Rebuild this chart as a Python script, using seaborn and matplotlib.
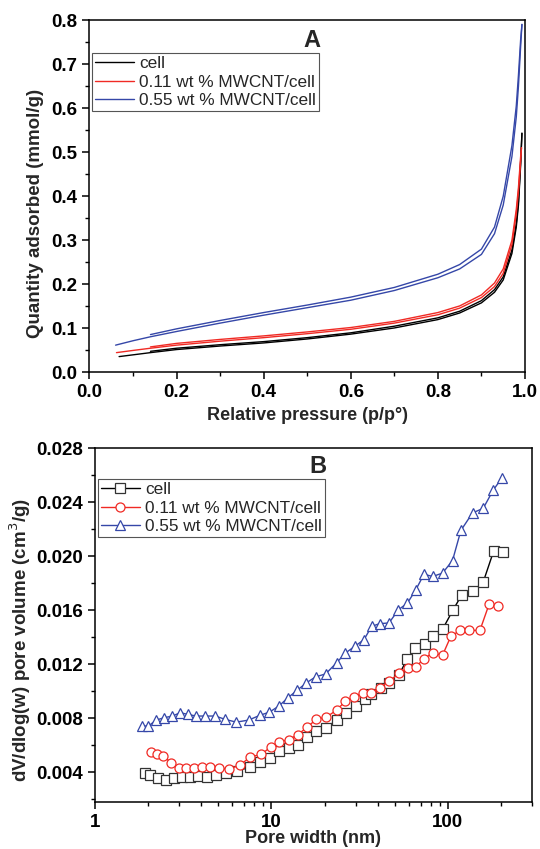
import seaborn as sns
import pandas as pd
import matplotlib
matplotlib.use("Agg")
import matplotlib.pyplot as plt
from matplotlib.ticker import MultipleLocator, FixedLocator, FuncFormatter, NullFormatter

# ---- panel A: N2 isotherms (adsorption + desorption branch) ----
names = ["cell", "0.11 wt % MWCNT/cell", "0.55 wt % MWCNT/cell"]
colors = ["black", "#f02a24", "#3547a8"]

p_grid = [0.1, 0.14, 0.2, 0.3, 0.4, 0.5, 0.6, 0.7, 0.8, 0.85, 0.9, 0.93, 0.95, 0.97, 0.98, 0.985, 0.99]
p_des = [0.14, 0.2, 0.3, 0.4, 0.5, 0.6, 0.7, 0.8, 0.85, 0.9, 0.93, 0.95, 0.97, 0.98, 0.985, 0.99]

cell_p0, cell_q0, cell_pend, cell_qend = 0.068, 0.036, 0.993, 0.543
cell_ads = [0.040, 0.045, 0.052, 0.060, 0.067, 0.076, 0.087, 0.101, 0.120, 0.135, 0.158, 0.182, 0.210, 0.270, 0.330, 0.380, 0.470]
cell_des = [0.048, 0.055, 0.063, 0.070, 0.079, 0.090, 0.105, 0.124, 0.139, 0.163, 0.188, 0.217, 0.278, 0.338, 0.388, 0.478]

m11_p0, m11_q0, m11_pend, m11_qend = 0.062, 0.045, 0.992, 0.510
m11_ads = [0.050, 0.055, 0.062, 0.071, 0.079, 0.088, 0.098, 0.112, 0.131, 0.146, 0.170, 0.195, 0.225, 0.290, 0.360, 0.410, 0.480]
m11_des = [0.058, 0.066, 0.075, 0.083, 0.092, 0.102, 0.116, 0.136, 0.151, 0.176, 0.203, 0.235, 0.300, 0.370, 0.420, 0.490]

m55_p0, m55_q0, m55_pend, m55_qend = 0.060, 0.062, 0.993, 0.790
m55_ads = [0.072, 0.081, 0.093, 0.112, 0.130, 0.147, 0.164, 0.186, 0.215, 0.235, 0.268, 0.315, 0.380, 0.490, 0.580, 0.650, 0.740]
m55_des = [0.086, 0.099, 0.118, 0.136, 0.153, 0.171, 0.193, 0.223, 0.245, 0.280, 0.330, 0.400, 0.515, 0.605, 0.675, 0.755]

# ---- panel B: pore size distribution ----
cell_w = [1.92, 2.05, 2.27, 2.52, 2.81, 3.11, 3.44, 3.83, 4.31, 4.87, 5.55, 6.38, 7.53, 8.66, 9.87, 11.1, 12.5, 14.1,
          15.9, 18.0, 20.5, 23.4, 26.6, 30.0, 33.8, 36.8, 41.6, 46.4, 52.9, 59.0, 65.2, 74.0, 82.9, 93.3, 107.2, 120.1,
          139.4, 158.6, 181.9, 205.4]
cell_v = [0.00393, 0.0038, 0.00358, 0.00339, 0.00358, 0.00363, 0.00366, 0.0037, 0.00368, 0.00383, 0.00398, 0.00407,
          0.00439, 0.00474, 0.00503, 0.00557, 0.00582, 0.00601, 0.0066, 0.00703, 0.0073, 0.00786, 0.0084, 0.00889,
          0.00944, 0.00976, 0.01022, 0.01064, 0.01123, 0.0124, 0.0132, 0.01352, 0.01406, 0.01458, 0.01603, 0.01714,
          0.01743, 0.01807, 0.02038, 0.02033]

m11_w = [2.08, 2.24, 2.44, 2.69, 2.98, 3.29, 3.65, 4.04, 4.50, 5.02, 5.72, 6.61, 7.6, 8.77, 9.91, 11.1, 12.5, 14.1,
         15.9, 18.0, 20.5, 23.4, 26.3, 29.3, 32.9, 36.8, 41.1, 46.4, 52.9, 59.4, 65.8, 73.3, 81.9, 93.3, 104, 117.4,
         132, 152, 171.7, 191.5]
m11_v = [0.0055, 0.00538, 0.0052, 0.00472, 0.00435, 0.00435, 0.0043, 0.00439, 0.00439, 0.0043, 0.00422, 0.00452,
         0.00513, 0.00533, 0.00587, 0.00624, 0.00641, 0.00678, 0.00732, 0.00793, 0.00808, 0.0086, 0.00926, 0.00959,
         0.00988, 0.00988, 0.01025, 0.01074, 0.01131, 0.01173, 0.0118, 0.0124, 0.01283, 0.01266, 0.01406, 0.0145,
         0.0145, 0.0145, 0.01647, 0.01632]

m55_w = [1.84, 2.01, 2.22, 2.47, 2.75, 3.04, 3.36, 3.75, 4.22, 4.81, 5.48, 6.32, 7.43, 8.58, 9.74, 11.0, 12.4, 14.0,
         15.8, 17.8, 20.3, 23.4, 26.3, 29.7, 33.5, 37.0, 41.1, 46.4, 52.5, 59.0, 65.8, 73.3, 81.9, 93.3, 106.3, 118.6,
         138.1, 158.6, 180.9, 201.9]
m55_v = [0.00742, 0.00742, 0.00786, 0.00804, 0.00816, 0.00841, 0.00828, 0.00816, 0.00816, 0.00816, 0.00791, 0.00771,
         0.00786, 0.00821, 0.00845, 0.00889, 0.00951, 0.01007, 0.01062, 0.01106, 0.01128, 0.0121, 0.01283, 0.01332,
         0.01382, 0.0148, 0.015, 0.01505, 0.01603, 0.01652, 0.0175, 0.01866, 0.01849, 0.01874, 0.01967, 0.0219,
         0.0232, 0.02353, 0.02489, 0.02575]

sns.set_style("ticks")
plt.rcParams["font.family"] = ["Liberation Sans", "DejaVu Sans"]
plt.rcParams["axes.linewidth"] = 1.1

fig = plt.figure(figsize=(5.4, 8.49), dpi=100)
axA = fig.add_axes([0.1657, 0.5613, 0.8065, 0.4151])
axB = fig.add_axes([0.1759, 0.0554, 0.8093, 0.4169])

# panel A
iso = [
    (cell_p0, cell_q0, cell_pend, cell_qend, cell_ads, cell_des),
    (m11_p0, m11_q0, m11_pend, m11_qend, m11_ads, m11_des),
    (m55_p0, m55_q0, m55_pend, m55_qend, m55_ads, m55_des),
]
handlesA = []
for name, c, (p0, q0, pe, qe, ads, des) in zip(names, colors, iso):
    df_ads = pd.DataFrame({"p": [p0] + p_grid + [pe], "q": [q0] + ads + [qe]})
    df_des = pd.DataFrame({"p": [pe] + p_des[::-1], "q": [qe] + des[::-1]})
    sns.lineplot(data=df_ads, x="p", y="q", ax=axA, color=c, lw=1.0, sort=False, estimator=None)
    handlesA.append(axA.lines[-1])
    sns.lineplot(data=df_des, x="p", y="q", ax=axA, color=c, lw=1.0, sort=False, estimator=None)

axA.set_xlim(0, 1.0)
axA.set_ylim(0, 0.8)
axA.xaxis.set_major_locator(MultipleLocator(0.2))
axA.xaxis.set_minor_locator(MultipleLocator(0.1))
axA.yaxis.set_major_locator(MultipleLocator(0.1))
axA.yaxis.set_minor_locator(MultipleLocator(0.05))
axA.xaxis.set_major_formatter(FuncFormatter(lambda v, _: f"{v:.1f}"))
axA.yaxis.set_major_formatter(FuncFormatter(lambda v, _: f"{v:.1f}"))
axA.set_xlabel("Relative pressure (p/p°)", fontsize=13, fontweight="bold")
axA.set_ylabel("Quantity adsorbed (mmol/g)", fontsize=13.5, fontweight="bold")
axA.xaxis.set_label_coords(0.5, -0.098)
axA.yaxis.set_label_coords(-0.104, 0.452)
axA.text(0.511, 0.943, "A", transform=axA.transAxes, fontsize=17, fontweight="bold", ha="center", va="center")
legA = axA.legend(handlesA, names, loc="upper left", bbox_to_anchor=(0.006, 0.906), fontsize=12.4,
                  frameon=True, fancybox=False, edgecolor="#555555", framealpha=1, handlelength=2.3,
                  handletextpad=0.3, labelspacing=0.22, borderpad=0.15, borderaxespad=0)
legA.get_frame().set_linewidth(0.8)

# panel B
markers = ["s", "o", "^"]
psd = [(cell_w, cell_v), (m11_w, m11_v), (m55_w, m55_v)]
handlesB = []
for name, c, mk, (w, v) in zip(names, colors, markers, psd):
    df = pd.DataFrame({"w": w, "v": v})
    ec = "#333333" if c == "black" else c
    sns.lineplot(data=df, x="w", y="v", ax=axB, color=c, lw=1.0, sort=False, estimator=None,
                 marker=mk, markersize=6.5, markerfacecolor="white", markeredgecolor=ec, markeredgewidth=0.9)
    handlesB.append(axB.lines[-1])

axB.set_xscale("log")
axB.set_xlim(1, 300)
axB.set_ylim(0.0018, 0.028)
axB.xaxis.set_major_locator(FixedLocator([1, 10, 100]))
axB.xaxis.set_minor_locator(FixedLocator([k * 10 ** e for e in range(0, 3) for k in range(2, 10) if k * 10 ** e <= 300]))
axB.xaxis.set_major_formatter(FuncFormatter(lambda v, _: f"{v:g}"))
axB.xaxis.set_minor_formatter(NullFormatter())
axB.yaxis.set_major_locator(MultipleLocator(0.004))
axB.yaxis.set_minor_locator(MultipleLocator(0.002))
axB.yaxis.set_major_formatter(FuncFormatter(lambda v, _: f"{v:.3f}"))
axB.set_xlabel("Pore width (nm)", fontsize=13, fontweight="bold")
axB.set_ylabel("dV/dlog(w) pore volume (cm$^3$/g)", fontsize=13.5, fontweight="bold")
axB.xaxis.set_label_coords(0.5, -0.08)
axB.yaxis.set_label_coords(-0.142, 0.458)
axB.text(0.511, 0.949, "B", transform=axB.transAxes, fontsize=17, fontweight="bold", ha="center", va="center")
legB = axB.legend(handlesB, names, loc="upper left", bbox_to_anchor=(0.007, 0.912), fontsize=12.4,
                  frameon=True, fancybox=False, edgecolor="#555555", framealpha=1, handlelength=2.3,
                  handletextpad=0.3, labelspacing=0.22, borderpad=0.15, borderaxespad=0, numpoints=1)
legB.get_frame().set_linewidth(0.8)

for ax in (axA, axB):
    for s in ax.spines.values():
        s.set_visible(True)
        s.set_color("black")
    ax.tick_params(which="both", direction="out", top=False, right=False, colors="black")
    ax.tick_params(which="major", length=5, width=1.1, labelsize=13.5)
    ax.tick_params(which="minor", length=3, width=1.0)
    for lab in ax.get_xticklabels() + ax.get_yticklabels():
        lab.set_fontweight("bold")

fig.savefig("out.png", dpi=100)
